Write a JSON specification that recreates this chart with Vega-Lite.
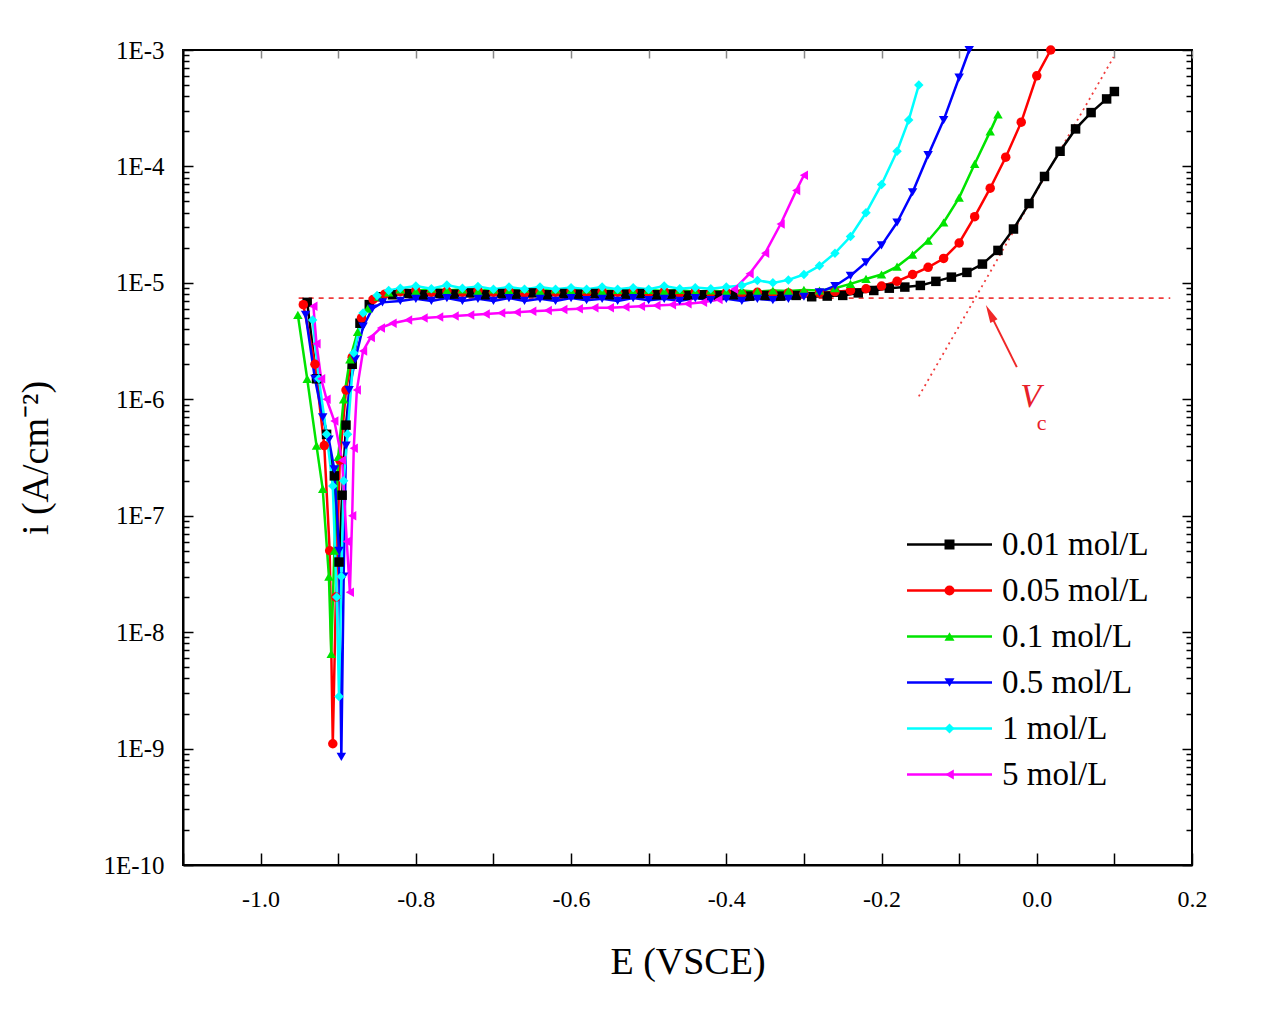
{
  "$schema": "https://vega.github.io/schema/vega-lite/v6.json",
  "width": 1009,
  "height": 815,
  "autosize": {"type": "none"},
  "padding": {"left": 183, "top": 50, "right": 72, "bottom": 149},
  "background": "white",
  "config": {
    "view": {"stroke": "black", "strokeWidth": 2},
    "axis": {
      "grid": false, "domainColor": "black", "domainWidth": 2,
      "tickColor": "black", "tickWidth": 1.5,
      "labelFont": "Liberation Serif", "labelFontSize": 24, "labelColor": "black",
      "titleFont": "Liberation Serif", "titleFontSize": 38, "titleFontWeight": "normal", "titleColor": "black",
      "labelOverlap": false, "labelBound": false, "labelFlush": false
    }
  },
  "datasets": {
    "hline": [{"E": -0.951, "i": 7.4e-6}, {"E": 0.172, "i": 7.4e-6}],
    "tangent": [{"E": -0.152, "i": 1.06e-6}, {"E": 0.099, "i": 8.7e-4}],
    "arrow": [{"E": -0.0257, "i": 1.89e-6, "E2": -0.0604, "i2": 5.5e-6}],
    "arrowhead": [{"E": -0.0604, "i": 5.5e-6}],
    "vlabel": [{"E": -0.008, "i": 1.04e-6, "t": "V"}],
    "clabel": [{"E": 0.0064, "i": 6.2e-7, "t": "c"}],
    "curves": [
      {"series": "0.01 mol/L", "E": -0.940, "i": 6.8e-6},
      {"series": "0.01 mol/L", "E": -0.928, "i": 1.5e-6},
      {"series": "0.01 mol/L", "E": -0.915, "i": 5e-7},
      {"series": "0.01 mol/L", "E": -0.905, "i": 2.2e-7},
      {"series": "0.01 mol/L", "E": -0.899, "i": 4e-8},
      {"series": "0.01 mol/L", "E": -0.895, "i": 1.5e-7},
      {"series": "0.01 mol/L", "E": -0.890, "i": 6e-7},
      {"series": "0.01 mol/L", "E": -0.882, "i": 2e-6},
      {"series": "0.01 mol/L", "E": -0.872, "i": 4.5e-6},
      {"series": "0.01 mol/L", "E": -0.860, "i": 6.5e-6},
      {"series": "0.01 mol/L", "E": -0.845, "i": 7.6e-6},
      {"series": "0.01 mol/L", "E": -0.83, "i": 7.9e-6},
      {"series": "0.01 mol/L", "E": -0.81, "i": 8.1e-6},
      {"series": "0.01 mol/L", "E": -0.79, "i": 7.9e-6},
      {"series": "0.01 mol/L", "E": -0.77, "i": 8.1e-6},
      {"series": "0.01 mol/L", "E": -0.75, "i": 8.0e-6},
      {"series": "0.01 mol/L", "E": -0.73, "i": 8.2e-6},
      {"series": "0.01 mol/L", "E": -0.71, "i": 7.9e-6},
      {"series": "0.01 mol/L", "E": -0.69, "i": 8.1e-6},
      {"series": "0.01 mol/L", "E": -0.67, "i": 8.0e-6},
      {"series": "0.01 mol/L", "E": -0.65, "i": 8.2e-6},
      {"series": "0.01 mol/L", "E": -0.63, "i": 7.9e-6},
      {"series": "0.01 mol/L", "E": -0.61, "i": 8.1e-6},
      {"series": "0.01 mol/L", "E": -0.59, "i": 8.0e-6},
      {"series": "0.01 mol/L", "E": -0.57, "i": 8.1e-6},
      {"series": "0.01 mol/L", "E": -0.55, "i": 7.9e-6},
      {"series": "0.01 mol/L", "E": -0.53, "i": 8.0e-6},
      {"series": "0.01 mol/L", "E": -0.51, "i": 8.1e-6},
      {"series": "0.01 mol/L", "E": -0.49, "i": 7.9e-6},
      {"series": "0.01 mol/L", "E": -0.47, "i": 8.0e-6},
      {"series": "0.01 mol/L", "E": -0.45, "i": 7.8e-6},
      {"series": "0.01 mol/L", "E": -0.43, "i": 7.9e-6},
      {"series": "0.01 mol/L", "E": -0.41, "i": 7.8e-6},
      {"series": "0.01 mol/L", "E": -0.39, "i": 7.9e-6},
      {"series": "0.01 mol/L", "E": -0.37, "i": 7.7e-6},
      {"series": "0.01 mol/L", "E": -0.35, "i": 7.8e-6},
      {"series": "0.01 mol/L", "E": -0.33, "i": 7.7e-6},
      {"series": "0.01 mol/L", "E": -0.31, "i": 7.8e-6},
      {"series": "0.01 mol/L", "E": -0.29, "i": 7.6e-6},
      {"series": "0.01 mol/L", "E": -0.27, "i": 7.7e-6},
      {"series": "0.01 mol/L", "E": -0.25, "i": 7.8e-6},
      {"series": "0.01 mol/L", "E": -0.23, "i": 8.2e-6},
      {"series": "0.01 mol/L", "E": -0.21, "i": 8.6e-6},
      {"series": "0.01 mol/L", "E": -0.19, "i": 9.0e-6},
      {"series": "0.01 mol/L", "E": -0.17, "i": 9.2e-6},
      {"series": "0.01 mol/L", "E": -0.15, "i": 9.5e-6},
      {"series": "0.01 mol/L", "E": -0.13, "i": 1.03e-5},
      {"series": "0.01 mol/L", "E": -0.11, "i": 1.12e-5},
      {"series": "0.01 mol/L", "E": -0.09, "i": 1.23e-5},
      {"series": "0.01 mol/L", "E": -0.07, "i": 1.45e-5},
      {"series": "0.01 mol/L", "E": -0.05, "i": 1.9e-5},
      {"series": "0.01 mol/L", "E": -0.03, "i": 2.9e-5},
      {"series": "0.01 mol/L", "E": -0.01, "i": 4.8e-5},
      {"series": "0.01 mol/L", "E": 0.01, "i": 8.2e-5},
      {"series": "0.01 mol/L", "E": 0.03, "i": 1.35e-4},
      {"series": "0.01 mol/L", "E": 0.05, "i": 2.1e-4},
      {"series": "0.01 mol/L", "E": 0.07, "i": 2.9e-4},
      {"series": "0.01 mol/L", "E": 0.09, "i": 3.8e-4},
      {"series": "0.01 mol/L", "E": 0.10, "i": 4.4e-4},

      {"series": "0.05 mol/L", "E": -0.945, "i": 6.5e-6},
      {"series": "0.05 mol/L", "E": -0.930, "i": 2e-6},
      {"series": "0.05 mol/L", "E": -0.918, "i": 4e-7},
      {"series": "0.05 mol/L", "E": -0.911, "i": 5e-8},
      {"series": "0.05 mol/L", "E": -0.907, "i": 1.1e-9},
      {"series": "0.05 mol/L", "E": -0.903, "i": 2e-8},
      {"series": "0.05 mol/L", "E": -0.898, "i": 3e-7},
      {"series": "0.05 mol/L", "E": -0.890, "i": 1.2e-6},
      {"series": "0.05 mol/L", "E": -0.882, "i": 2.3e-6},
      {"series": "0.05 mol/L", "E": -0.870, "i": 5e-6},
      {"series": "0.05 mol/L", "E": -0.855, "i": 7.2e-6},
      {"series": "0.05 mol/L", "E": -0.840, "i": 8e-6},
      {"series": "0.05 mol/L", "E": -0.82, "i": 8.4e-6},
      {"series": "0.05 mol/L", "E": -0.80, "i": 8.6e-6},
      {"series": "0.05 mol/L", "E": -0.78, "i": 8.3e-6},
      {"series": "0.05 mol/L", "E": -0.76, "i": 8.5e-6},
      {"series": "0.05 mol/L", "E": -0.74, "i": 8.3e-6},
      {"series": "0.05 mol/L", "E": -0.72, "i": 8.6e-6},
      {"series": "0.05 mol/L", "E": -0.70, "i": 8.3e-6},
      {"series": "0.05 mol/L", "E": -0.68, "i": 8.5e-6},
      {"series": "0.05 mol/L", "E": -0.66, "i": 8.2e-6},
      {"series": "0.05 mol/L", "E": -0.64, "i": 8.4e-6},
      {"series": "0.05 mol/L", "E": -0.62, "i": 8.3e-6},
      {"series": "0.05 mol/L", "E": -0.60, "i": 8.5e-6},
      {"series": "0.05 mol/L", "E": -0.58, "i": 8.2e-6},
      {"series": "0.05 mol/L", "E": -0.56, "i": 8.4e-6},
      {"series": "0.05 mol/L", "E": -0.54, "i": 8.3e-6},
      {"series": "0.05 mol/L", "E": -0.52, "i": 8.5e-6},
      {"series": "0.05 mol/L", "E": -0.50, "i": 8.2e-6},
      {"series": "0.05 mol/L", "E": -0.48, "i": 8.4e-6},
      {"series": "0.05 mol/L", "E": -0.46, "i": 8.2e-6},
      {"series": "0.05 mol/L", "E": -0.44, "i": 8.4e-6},
      {"series": "0.05 mol/L", "E": -0.42, "i": 8.2e-6},
      {"series": "0.05 mol/L", "E": -0.40, "i": 8.3e-6},
      {"series": "0.05 mol/L", "E": -0.38, "i": 8.1e-6},
      {"series": "0.05 mol/L", "E": -0.36, "i": 8.3e-6},
      {"series": "0.05 mol/L", "E": -0.34, "i": 8.1e-6},
      {"series": "0.05 mol/L", "E": -0.32, "i": 8.2e-6},
      {"series": "0.05 mol/L", "E": -0.30, "i": 8.1e-6},
      {"series": "0.05 mol/L", "E": -0.28, "i": 8.2e-6},
      {"series": "0.05 mol/L", "E": -0.26, "i": 8.4e-6},
      {"series": "0.05 mol/L", "E": -0.24, "i": 8.6e-6},
      {"series": "0.05 mol/L", "E": -0.22, "i": 8.9e-6},
      {"series": "0.05 mol/L", "E": -0.20, "i": 9.4e-6},
      {"series": "0.05 mol/L", "E": -0.18, "i": 1.03e-5},
      {"series": "0.05 mol/L", "E": -0.16, "i": 1.18e-5},
      {"series": "0.05 mol/L", "E": -0.14, "i": 1.36e-5},
      {"series": "0.05 mol/L", "E": -0.12, "i": 1.62e-5},
      {"series": "0.05 mol/L", "E": -0.10, "i": 2.2e-5},
      {"series": "0.05 mol/L", "E": -0.08, "i": 3.7e-5},
      {"series": "0.05 mol/L", "E": -0.06, "i": 6.5e-5},
      {"series": "0.05 mol/L", "E": -0.04, "i": 1.2e-4},
      {"series": "0.05 mol/L", "E": -0.02, "i": 2.4e-4},
      {"series": "0.05 mol/L", "E": 0.00, "i": 6.0e-4},
      {"series": "0.05 mol/L", "E": 0.018, "i": 1.0e-3},

      {"series": "0.1 mol/L", "E": -0.952, "i": 5.3e-6},
      {"series": "0.1 mol/L", "E": -0.940, "i": 1.5e-6},
      {"series": "0.1 mol/L", "E": -0.928, "i": 4e-7},
      {"series": "0.1 mol/L", "E": -0.920, "i": 1.7e-7},
      {"series": "0.1 mol/L", "E": -0.912, "i": 3e-8},
      {"series": "0.1 mol/L", "E": -0.909, "i": 6.5e-9},
      {"series": "0.1 mol/L", "E": -0.905, "i": 5e-8},
      {"series": "0.1 mol/L", "E": -0.900, "i": 3.2e-7},
      {"series": "0.1 mol/L", "E": -0.893, "i": 1e-6},
      {"series": "0.1 mol/L", "E": -0.885, "i": 2.2e-6},
      {"series": "0.1 mol/L", "E": -0.875, "i": 3.8e-6},
      {"series": "0.1 mol/L", "E": -0.862, "i": 6e-6},
      {"series": "0.1 mol/L", "E": -0.848, "i": 7.6e-6},
      {"series": "0.1 mol/L", "E": -0.835, "i": 8.3e-6},
      {"series": "0.1 mol/L", "E": -0.82, "i": 8.8e-6},
      {"series": "0.1 mol/L", "E": -0.80, "i": 8.5e-6},
      {"series": "0.1 mol/L", "E": -0.78, "i": 8.9e-6},
      {"series": "0.1 mol/L", "E": -0.76, "i": 8.6e-6},
      {"series": "0.1 mol/L", "E": -0.74, "i": 8.8e-6},
      {"series": "0.1 mol/L", "E": -0.72, "i": 8.5e-6},
      {"series": "0.1 mol/L", "E": -0.70, "i": 8.8e-6},
      {"series": "0.1 mol/L", "E": -0.68, "i": 8.6e-6},
      {"series": "0.1 mol/L", "E": -0.66, "i": 8.9e-6},
      {"series": "0.1 mol/L", "E": -0.64, "i": 8.5e-6},
      {"series": "0.1 mol/L", "E": -0.62, "i": 8.8e-6},
      {"series": "0.1 mol/L", "E": -0.60, "i": 8.6e-6},
      {"series": "0.1 mol/L", "E": -0.58, "i": 8.8e-6},
      {"series": "0.1 mol/L", "E": -0.56, "i": 8.5e-6},
      {"series": "0.1 mol/L", "E": -0.54, "i": 8.7e-6},
      {"series": "0.1 mol/L", "E": -0.52, "i": 8.5e-6},
      {"series": "0.1 mol/L", "E": -0.50, "i": 8.7e-6},
      {"series": "0.1 mol/L", "E": -0.48, "i": 8.5e-6},
      {"series": "0.1 mol/L", "E": -0.46, "i": 8.7e-6},
      {"series": "0.1 mol/L", "E": -0.44, "i": 8.4e-6},
      {"series": "0.1 mol/L", "E": -0.42, "i": 8.6e-6},
      {"series": "0.1 mol/L", "E": -0.40, "i": 8.4e-6},
      {"series": "0.1 mol/L", "E": -0.38, "i": 8.6e-6},
      {"series": "0.1 mol/L", "E": -0.36, "i": 8.4e-6},
      {"series": "0.1 mol/L", "E": -0.34, "i": 8.6e-6},
      {"series": "0.1 mol/L", "E": -0.32, "i": 8.5e-6},
      {"series": "0.1 mol/L", "E": -0.30, "i": 8.7e-6},
      {"series": "0.1 mol/L", "E": -0.28, "i": 8.6e-6},
      {"series": "0.1 mol/L", "E": -0.26, "i": 9.0e-6},
      {"series": "0.1 mol/L", "E": -0.24, "i": 9.8e-6},
      {"series": "0.1 mol/L", "E": -0.22, "i": 1.08e-5},
      {"series": "0.1 mol/L", "E": -0.20, "i": 1.18e-5},
      {"series": "0.1 mol/L", "E": -0.18, "i": 1.38e-5},
      {"series": "0.1 mol/L", "E": -0.16, "i": 1.75e-5},
      {"series": "0.1 mol/L", "E": -0.14, "i": 2.3e-5},
      {"series": "0.1 mol/L", "E": -0.12, "i": 3.3e-5},
      {"series": "0.1 mol/L", "E": -0.10, "i": 5.4e-5},
      {"series": "0.1 mol/L", "E": -0.08, "i": 1.05e-4},
      {"series": "0.1 mol/L", "E": -0.06, "i": 2.0e-4},
      {"series": "0.1 mol/L", "E": -0.05, "i": 2.8e-4},

      {"series": "0.5 mol/L", "E": -0.942, "i": 5.3e-6},
      {"series": "0.5 mol/L", "E": -0.930, "i": 1.5e-6},
      {"series": "0.5 mol/L", "E": -0.920, "i": 7e-7},
      {"series": "0.5 mol/L", "E": -0.912, "i": 4.5e-7},
      {"series": "0.5 mol/L", "E": -0.905, "i": 2.5e-7},
      {"series": "0.5 mol/L", "E": -0.899, "i": 5e-8},
      {"series": "0.5 mol/L", "E": -0.896, "i": 8.5e-10},
      {"series": "0.5 mol/L", "E": -0.893, "i": 3e-8},
      {"series": "0.5 mol/L", "E": -0.890, "i": 4e-7},
      {"series": "0.5 mol/L", "E": -0.886, "i": 1.2e-6},
      {"series": "0.5 mol/L", "E": -0.878, "i": 2.2e-6},
      {"series": "0.5 mol/L", "E": -0.868, "i": 4.2e-6},
      {"series": "0.5 mol/L", "E": -0.856, "i": 6e-6},
      {"series": "0.5 mol/L", "E": -0.843, "i": 6.8e-6},
      {"series": "0.5 mol/L", "E": -0.82, "i": 7.0e-6},
      {"series": "0.5 mol/L", "E": -0.80, "i": 7.3e-6},
      {"series": "0.5 mol/L", "E": -0.78, "i": 7.0e-6},
      {"series": "0.5 mol/L", "E": -0.76, "i": 7.4e-6},
      {"series": "0.5 mol/L", "E": -0.74, "i": 7.0e-6},
      {"series": "0.5 mol/L", "E": -0.72, "i": 7.3e-6},
      {"series": "0.5 mol/L", "E": -0.70, "i": 7.0e-6},
      {"series": "0.5 mol/L", "E": -0.68, "i": 7.4e-6},
      {"series": "0.5 mol/L", "E": -0.66, "i": 7.0e-6},
      {"series": "0.5 mol/L", "E": -0.64, "i": 7.3e-6},
      {"series": "0.5 mol/L", "E": -0.62, "i": 7.0e-6},
      {"series": "0.5 mol/L", "E": -0.60, "i": 7.4e-6},
      {"series": "0.5 mol/L", "E": -0.58, "i": 7.1e-6},
      {"series": "0.5 mol/L", "E": -0.56, "i": 7.3e-6},
      {"series": "0.5 mol/L", "E": -0.54, "i": 7.0e-6},
      {"series": "0.5 mol/L", "E": -0.52, "i": 7.4e-6},
      {"series": "0.5 mol/L", "E": -0.50, "i": 7.1e-6},
      {"series": "0.5 mol/L", "E": -0.48, "i": 7.3e-6},
      {"series": "0.5 mol/L", "E": -0.46, "i": 7.0e-6},
      {"series": "0.5 mol/L", "E": -0.44, "i": 7.4e-6},
      {"series": "0.5 mol/L", "E": -0.42, "i": 7.1e-6},
      {"series": "0.5 mol/L", "E": -0.40, "i": 7.3e-6},
      {"series": "0.5 mol/L", "E": -0.38, "i": 7.0e-6},
      {"series": "0.5 mol/L", "E": -0.36, "i": 7.3e-6},
      {"series": "0.5 mol/L", "E": -0.34, "i": 7.1e-6},
      {"series": "0.5 mol/L", "E": -0.32, "i": 7.3e-6},
      {"series": "0.5 mol/L", "E": -0.30, "i": 7.6e-6},
      {"series": "0.5 mol/L", "E": -0.28, "i": 8.3e-6},
      {"series": "0.5 mol/L", "E": -0.26, "i": 9.4e-6},
      {"series": "0.5 mol/L", "E": -0.24, "i": 1.15e-5},
      {"series": "0.5 mol/L", "E": -0.22, "i": 1.5e-5},
      {"series": "0.5 mol/L", "E": -0.20, "i": 2.1e-5},
      {"series": "0.5 mol/L", "E": -0.18, "i": 3.3e-5},
      {"series": "0.5 mol/L", "E": -0.16, "i": 6.0e-5},
      {"series": "0.5 mol/L", "E": -0.14, "i": 1.25e-4},
      {"series": "0.5 mol/L", "E": -0.12, "i": 2.5e-4},
      {"series": "0.5 mol/L", "E": -0.10, "i": 5.8e-4},
      {"series": "0.5 mol/L", "E": -0.087, "i": 1.0e-3},

      {"series": "1 mol/L", "E": -0.933, "i": 4.8e-6},
      {"series": "1 mol/L", "E": -0.925, "i": 1.5e-6},
      {"series": "1 mol/L", "E": -0.915, "i": 5e-7},
      {"series": "1 mol/L", "E": -0.907, "i": 1.8e-7},
      {"series": "1 mol/L", "E": -0.902, "i": 2e-8},
      {"series": "1 mol/L", "E": -0.899, "i": 2.8e-9},
      {"series": "1 mol/L", "E": -0.896, "i": 3e-8},
      {"series": "1 mol/L", "E": -0.893, "i": 2e-7},
      {"series": "1 mol/L", "E": -0.888, "i": 5e-7},
      {"series": "1 mol/L", "E": -0.880, "i": 2.5e-6},
      {"series": "1 mol/L", "E": -0.868, "i": 5.5e-6},
      {"series": "1 mol/L", "E": -0.850, "i": 7.8e-6},
      {"series": "1 mol/L", "E": -0.835, "i": 8.6e-6},
      {"series": "1 mol/L", "E": -0.82, "i": 9.0e-6},
      {"series": "1 mol/L", "E": -0.80, "i": 9.4e-6},
      {"series": "1 mol/L", "E": -0.78, "i": 8.9e-6},
      {"series": "1 mol/L", "E": -0.76, "i": 9.6e-6},
      {"series": "1 mol/L", "E": -0.74, "i": 9.0e-6},
      {"series": "1 mol/L", "E": -0.72, "i": 9.3e-6},
      {"series": "1 mol/L", "E": -0.70, "i": 8.8e-6},
      {"series": "1 mol/L", "E": -0.68, "i": 9.2e-6},
      {"series": "1 mol/L", "E": -0.66, "i": 8.8e-6},
      {"series": "1 mol/L", "E": -0.64, "i": 9.2e-6},
      {"series": "1 mol/L", "E": -0.62, "i": 8.8e-6},
      {"series": "1 mol/L", "E": -0.60, "i": 9.1e-6},
      {"series": "1 mol/L", "E": -0.58, "i": 8.8e-6},
      {"series": "1 mol/L", "E": -0.56, "i": 9.2e-6},
      {"series": "1 mol/L", "E": -0.54, "i": 8.8e-6},
      {"series": "1 mol/L", "E": -0.52, "i": 9.1e-6},
      {"series": "1 mol/L", "E": -0.50, "i": 8.8e-6},
      {"series": "1 mol/L", "E": -0.48, "i": 9.4e-6},
      {"series": "1 mol/L", "E": -0.46, "i": 8.9e-6},
      {"series": "1 mol/L", "E": -0.44, "i": 9.1e-6},
      {"series": "1 mol/L", "E": -0.42, "i": 8.9e-6},
      {"series": "1 mol/L", "E": -0.40, "i": 9.2e-6},
      {"series": "1 mol/L", "E": -0.38, "i": 9.5e-6},
      {"series": "1 mol/L", "E": -0.36, "i": 1.05e-5},
      {"series": "1 mol/L", "E": -0.34, "i": 1.0e-5},
      {"series": "1 mol/L", "E": -0.32, "i": 1.06e-5},
      {"series": "1 mol/L", "E": -0.30, "i": 1.18e-5},
      {"series": "1 mol/L", "E": -0.28, "i": 1.4e-5},
      {"series": "1 mol/L", "E": -0.26, "i": 1.8e-5},
      {"series": "1 mol/L", "E": -0.24, "i": 2.5e-5},
      {"series": "1 mol/L", "E": -0.22, "i": 4.0e-5},
      {"series": "1 mol/L", "E": -0.20, "i": 7.0e-5},
      {"series": "1 mol/L", "E": -0.18, "i": 1.35e-4},
      {"series": "1 mol/L", "E": -0.165, "i": 2.5e-4},
      {"series": "1 mol/L", "E": -0.152, "i": 5.0e-4},

      {"series": "5 mol/L", "E": -0.932, "i": 6.3e-6},
      {"series": "5 mol/L", "E": -0.928, "i": 3e-6},
      {"series": "5 mol/L", "E": -0.922, "i": 1.5e-6},
      {"series": "5 mol/L", "E": -0.915, "i": 1e-6},
      {"series": "5 mol/L", "E": -0.905, "i": 6.5e-7},
      {"series": "5 mol/L", "E": -0.895, "i": 3e-7},
      {"series": "5 mol/L", "E": -0.889, "i": 6e-8},
      {"series": "5 mol/L", "E": -0.885, "i": 2.2e-8},
      {"series": "5 mol/L", "E": -0.882, "i": 1e-7},
      {"series": "5 mol/L", "E": -0.880, "i": 3.8e-7},
      {"series": "5 mol/L", "E": -0.876, "i": 1.2e-6},
      {"series": "5 mol/L", "E": -0.868, "i": 2.6e-6},
      {"series": "5 mol/L", "E": -0.858, "i": 3.4e-6},
      {"series": "5 mol/L", "E": -0.845, "i": 4.1e-6},
      {"series": "5 mol/L", "E": -0.830, "i": 4.5e-6},
      {"series": "5 mol/L", "E": -0.81, "i": 4.8e-6},
      {"series": "5 mol/L", "E": -0.79, "i": 5.0e-6},
      {"series": "5 mol/L", "E": -0.77, "i": 5.1e-6},
      {"series": "5 mol/L", "E": -0.75, "i": 5.2e-6},
      {"series": "5 mol/L", "E": -0.73, "i": 5.3e-6},
      {"series": "5 mol/L", "E": -0.71, "i": 5.4e-6},
      {"series": "5 mol/L", "E": -0.69, "i": 5.5e-6},
      {"series": "5 mol/L", "E": -0.67, "i": 5.6e-6},
      {"series": "5 mol/L", "E": -0.65, "i": 5.7e-6},
      {"series": "5 mol/L", "E": -0.63, "i": 5.8e-6},
      {"series": "5 mol/L", "E": -0.61, "i": 5.9e-6},
      {"series": "5 mol/L", "E": -0.59, "i": 6.0e-6},
      {"series": "5 mol/L", "E": -0.57, "i": 6.1e-6},
      {"series": "5 mol/L", "E": -0.55, "i": 6.1e-6},
      {"series": "5 mol/L", "E": -0.53, "i": 6.2e-6},
      {"series": "5 mol/L", "E": -0.51, "i": 6.3e-6},
      {"series": "5 mol/L", "E": -0.49, "i": 6.4e-6},
      {"series": "5 mol/L", "E": -0.47, "i": 6.5e-6},
      {"series": "5 mol/L", "E": -0.45, "i": 6.6e-6},
      {"series": "5 mol/L", "E": -0.43, "i": 6.8e-6},
      {"series": "5 mol/L", "E": -0.41, "i": 7.2e-6},
      {"series": "5 mol/L", "E": -0.39, "i": 8.8e-6},
      {"series": "5 mol/L", "E": -0.37, "i": 1.2e-5},
      {"series": "5 mol/L", "E": -0.35, "i": 1.8e-5},
      {"series": "5 mol/L", "E": -0.33, "i": 3.2e-5},
      {"series": "5 mol/L", "E": -0.31, "i": 6.2e-5},
      {"series": "5 mol/L", "E": -0.30, "i": 8.4e-5}
    ]
  },
  "resolve": {"axis": {"x": "independent", "y": "independent"}},
  "layer": [
    {
      "data": {"name": "hline"},
      "mark": {"type": "line", "color": "#f03c3c", "strokeWidth": 1.6, "strokeDash": [5, 5]},
      "encoding": {
        "x": {
          "field": "E", "type": "quantitative",
          "scale": {"domain": [-1.1, 0.2], "nice": false, "zero": false},
          "axis": {
            "title": "E (VSCE)",
            "values": [-1.1, -1.0, -0.9, -0.8, -0.7, -0.6, -0.5, -0.4, -0.3, -0.2, -0.1, 0.0, 0.1, 0.2],
            "labelExpr": "(abs(round(datum.value*10)) % 2 == 1) ? '' : (datum.value < -0.001 ? '-' + format(-datum.value, '.1f') : format(abs(datum.value), '.1f'))",
            "tickSize": -12, "labelPadding": 34, "titlePadding": 32
          }
        },
        "y": {
          "field": "i", "type": "quantitative",
          "scale": {"type": "log", "domain": [1e-10, 1e-3], "nice": false},
          "axis": {
            "title": "i (A/cm⁻²)",
            "values": [1e-10,2e-10,3e-10,4e-10,5e-10,6e-10,7e-10,8e-10,9e-10,1e-9,2e-9,3e-9,4e-9,5e-9,6e-9,7e-9,8e-9,9e-9,1e-8,2e-8,3e-8,4e-8,5e-8,6e-8,7e-8,8e-8,9e-8,1e-7,2e-7,3e-7,4e-7,5e-7,6e-7,7e-7,8e-7,9e-7,1e-6,2e-6,3e-6,4e-6,5e-6,6e-6,7e-6,8e-6,9e-6,1e-5,2e-5,3e-5,4e-5,5e-5,6e-5,7e-5,8e-5,9e-5,1e-4,2e-4,3e-4,4e-4,5e-4,6e-4,7e-4,8e-4,9e-4,1e-3],
            "labelExpr": "abs(log(datum.value)/LN10 - round(log(datum.value)/LN10)) < 0.001 ? '1E' + round(log(datum.value)/LN10) : ''",
            "tickSize": {"condition": {"test": "abs(log(datum.value)/LN10 - round(log(datum.value)/LN10)) < 0.001", "value": -10}, "value": -6},
            "labelFontSize": 25, "labelPadding": 29, "titlePadding": 47
          }
        }
      }
    },
    {
      "data": {"name": "tangent"},
      "mark": {"type": "line", "color": "#f03c3c", "strokeWidth": 1.8, "strokeDash": [2, 4]},
      "encoding": {
        "x": {
          "field": "E", "type": "quantitative",
          "axis": {"orient": "top", "labels": false, "title": null, "domain": false, "tickSize": -8, "tickColor": "#888888",
                   "values": [-1.1, -1.0, -0.9, -0.8, -0.7, -0.6, -0.5, -0.4, -0.3, -0.2, -0.1, 0.0, 0.1, 0.2]}
        },
        "y": {
          "field": "i", "type": "quantitative",
          "axis": {"orient": "right", "labels": false, "title": null, "domain": false,
                   "values": [1e-10,2e-10,3e-10,4e-10,5e-10,6e-10,7e-10,8e-10,9e-10,1e-9,2e-9,3e-9,4e-9,5e-9,6e-9,7e-9,8e-9,9e-9,1e-8,2e-8,3e-8,4e-8,5e-8,6e-8,7e-8,8e-8,9e-8,1e-7,2e-7,3e-7,4e-7,5e-7,6e-7,7e-7,8e-7,9e-7,1e-6,2e-6,3e-6,4e-6,5e-6,6e-6,7e-6,8e-6,9e-6,1e-5,2e-5,3e-5,4e-5,5e-5,6e-5,7e-5,8e-5,9e-5,1e-4,2e-4,3e-4,4e-4,5e-4,6e-4,7e-4,8e-4,9e-4,1e-3],
                   "tickSize": {"condition": {"test": "abs(log(datum.value)/LN10 - round(log(datum.value)/LN10)) < 0.001", "value": -10}, "value": -6}}
        }
      }
    },
    {
      "data": {"name": "curves"},
      "mark": {"type": "line", "strokeWidth": 2.5},
      "encoding": {
        "x": {"field": "E", "type": "quantitative", "axis": null},
        "y": {"field": "i", "type": "quantitative", "axis": null},
        "stroke": {
          "field": "series", "type": "nominal",
          "scale": {"range": ["#000000", "#ff0000", "#00e400", "#0000ff", "#00ffff", "#ff00ff"]},
          "legend": {
            "title": null, "orient": "none", "legendX": 750, "legendY": 478, "padding": 0,
            "labelFont": "Liberation Serif", "labelFontSize": 33, "labelColor": "black",
            "symbolType": "M-8.5,0H8.5", "symbolSize": 100, "labelOffset": 36, "rowPadding": 12,
            "symbolStrokeWidth": 2.5, "symbolOpacity": 1
          }
        }
      }
    },
    {
      "data": {"name": "curves"},
      "mark": {"type": "point", "filled": true, "size": 90, "opacity": 1},
      "encoding": {
        "x": {"field": "E", "type": "quantitative", "axis": null},
        "y": {"field": "i", "type": "quantitative", "axis": null},
        "fill": {
          "field": "series", "type": "nominal",
          "scale": {"domain": ["0.01 mol/L", "0.05 mol/L", "0.1 mol/L", "0.5 mol/L", "1 mol/L", "5 mol/L"],
                    "range": ["#000000", "#ff0000", "#00e400", "#0000ff", "#00ffff", "#ff00ff"]},
          "legend": {
            "title": null, "orient": "none", "legendX": 750, "legendY": 478, "padding": 0,
            "labelFont": "Liberation Serif", "labelFontSize": 33, "labelColor": "transparent",
            "symbolSize": 100, "labelOffset": 36, "rowPadding": 12, "symbolOpacity": 1, "symbolStrokeWidth": 0
          }
        },
        "shape": {
          "field": "series", "type": "nominal",
          "scale": {"domain": ["0.01 mol/L", "0.05 mol/L", "0.1 mol/L", "0.5 mol/L", "1 mol/L", "5 mol/L"],
                    "range": ["square", "circle", "triangle-up", "triangle-down", "diamond", "triangle-left"]},
          "legend": {
            "title": null, "orient": "none", "legendX": 750, "legendY": 478, "padding": 0,
            "labelFont": "Liberation Serif", "labelFontSize": 33, "labelColor": "transparent",
            "symbolSize": 100, "labelOffset": 36, "rowPadding": 12, "symbolOpacity": 1, "symbolStrokeWidth": 0
          }
        }
      }
    },
    {
      "data": {"name": "arrow"},
      "mark": {"type": "rule", "color": "#f02828", "strokeWidth": 2},
      "encoding": {
        "x": {"field": "E", "type": "quantitative", "axis": null},
        "y": {"field": "i", "type": "quantitative", "axis": null},
        "x2": {"field": "E2"},
        "y2": {"field": "i2"}
      }
    },
    {
      "data": {"name": "arrowhead"},
      "mark": {"type": "point", "shape": "M0,-1L-0.45,1L0.45,1Z", "angle": 333.4, "size": 324, "filled": true, "color": "#f02828", "opacity": 1},
      "encoding": {
        "x": {"field": "E", "type": "quantitative", "axis": null},
        "y": {"field": "i", "type": "quantitative", "axis": null}
      }
    },
    {
      "data": {"name": "vlabel"},
      "mark": {"type": "text", "font": "Liberation Serif", "fontStyle": "italic", "fontSize": 34, "color": "#e8202a", "align": "center", "baseline": "middle"},
      "encoding": {
        "x": {"field": "E", "type": "quantitative", "axis": null},
        "y": {"field": "i", "type": "quantitative", "axis": null},
        "text": {"field": "t"}
      }
    },
    {
      "data": {"name": "clabel"},
      "mark": {"type": "text", "font": "Liberation Serif", "fontSize": 22, "color": "#e8202a", "align": "center", "baseline": "middle"},
      "encoding": {
        "x": {"field": "E", "type": "quantitative", "axis": null},
        "y": {"field": "i", "type": "quantitative", "axis": null},
        "text": {"field": "t"}
      }
    }
  ]
}
